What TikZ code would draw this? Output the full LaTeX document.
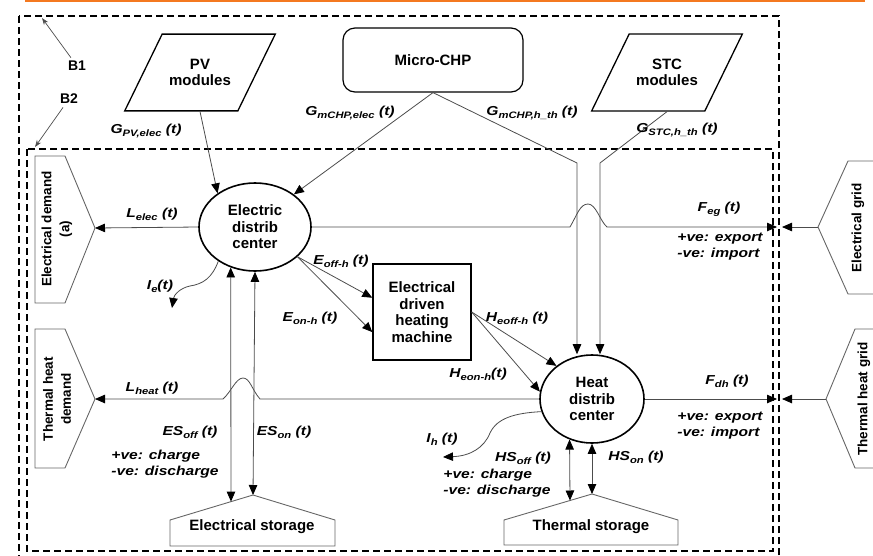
\documentclass[tikz,border=0pt]{standalone}
\usepackage{fontspec}
\setmainfont{Liberation Sans}
\newfontfamily\lblfont{Liberation Sans}[FakeStretch=1.2]
\usepackage{graphicx}
\usepackage{tikz}
\usetikzlibrary{arrows.meta,shapes.geometric}
\definecolor{topbar}{RGB}{244,121,32}
\newcommand{\fsub}[1]{\raisebox{-0.45ex}{\scalebox{0.72}{#1}}}

\begin{document}
\begin{tikzpicture}[x=1pt, y=-1pt,
    >={Triangle[length=10pt,width=8.5pt,color=black]},
    box/.style={draw, line width=1.3pt, font=\bfseries\fontsize{15}{16.5}\selectfont, align=center, inner sep=0pt},
    centre/.style={box, ellipse, line width=1.6pt},
    panel/.style={box, trapezium, trapezium left angle=64, trapezium right angle=116,
        inner xsep=7pt, inner ysep=24.9pt},
    flow/.style={draw=black!70, line width=0.8pt},
    side/.style={draw=black!60, line width=0.9pt},
    sidetxt/.style={font=\bfseries\fontsize{13.5}{18}\selectfont, align=center, rotate=90, inner sep=0pt},
    storetxt/.style={font=\bfseries\fontsize{15}{16.5}\selectfont, inner sep=0pt},
    lbl/.style={font=\lblfont\bfseries\itshape\fontsize{13}{16}\selectfont, align=left, inner sep=0pt},
    border/.style={line width=1.6pt, dash pattern=on 7pt off 4pt}]
    \useasboundingbox (0,0) rectangle (873,555);

    % Draw the top rule and the two boundaries
    \draw[topbar, line width=3pt] (25,0.8) -- (865,0.8);
    \draw[border] (19,16) rectangle (779,560);
    \draw[border] (27,149) rectangle (773,551);
    \node[font=\bfseries\fontsize{14}{14}\selectfont] (b1) at (77,66) {B1};
    \node[font=\bfseries\fontsize{14}{14}\selectfont] (b2) at (69,99) {B2};
    \coordinate (b1tip) at (42,18);
    \coordinate (b2tip) at (35,147);
    \draw[black!70, line width=0.7pt, -{Stealth[length=7pt,width=5pt]}] (b1) -- (b1tip);
    \draw[black!70, line width=0.7pt, -{Stealth[length=7pt,width=5pt]}] (b2) -- (b2tip);

    % Draw the sources
    \node[panel] (pv) at (200,72.5) {PV\\modules};
    \node[box, rounded corners=12pt, minimum width=180pt, minimum height=64pt, line width=1.2pt] (chp) at (433,60) {Micro-CHP};
    \node[panel] (stc) at (667,72.5) {STC\\modules};

    % Draw the distribution centres and the heating machine
    \node[centre, minimum width=112pt, minimum height=88pt] (elec) at (255,227) {Electric\\distrib\\center};
    \node[centre, minimum width=104pt, minimum height=88pt] (heat) at (592,399) {Heat\\distrib\\center};
    \node[box, minimum width=98pt, minimum height=96pt, line width=1.4pt] (hm) at (422,312) {Electrical\\driven\\heating\\machine};

    % Draw demands, grids and storages
    \draw[side] (35,156) -- (65,156) -- (95,228) -- (65,303) -- (35,303) -- cycle;
    \coordinate (edem) at (95,228);
    \node[sidetxt] (edem-txt) at (57,229) {Electrical demand\\(a)};
    \draw[side] (35,329) -- (65,329) -- (95,399) -- (65,468) -- (35,468) -- cycle;
    \coordinate (tdem) at (95,399);
    \node[sidetxt] (tdem-txt) at (57,399) {Thermal heat\\demand};
    \draw[side] (878,161) -- (848,161) -- (818,227) -- (848,294) -- (878,294);
    \coordinate (egrid) at (818,227);
    \node[sidetxt] (egrid-txt) at (858,228) {Electrical grid};
    \draw[side] (878,329) -- (855,329) -- (826,399) -- (855,468) -- (878,468);
    \coordinate (tgrid) at (826,399);
    \node[sidetxt] (tgrid-txt) at (864,399) {Thermal heat grid};
    \draw[side] (253,495) -- (335,520) -- (335,546) -- (170,546) -- (170,520) -- cycle;
    \coordinate (estore) at (253,495);
    \coordinate (esoff) at (231,501.6);
    \node[storetxt] (estore-txt) at (252,527) {Electrical storage};
    \draw[side] (592,494) -- (678,520) -- (678,545) -- (504,545) -- (504,520) -- cycle;
    \coordinate (tstore) at (592,494);
    \coordinate (hsoff) at (570,500.5);
    \node[storetxt] (tstore-txt) at (591,527) {Thermal storage};

    % Supply flows
    \coordinate (k1) at (577,163);
    \coordinate (k2) at (600,163);
    \draw[flow, ->] (pv.south) -- (elec.138); % PV to electric centre
    \draw[flow, ->] (chp.south) -- (elec.40); % CHP to electric centre
    \draw[flow, ->] (chp.south) -- (k1) -- (k1 |- heat.north); % CHP to heat centre
    \draw[flow, ->] (stc.south) -- (k2) -- (k2 |- heat.north); % STC to heat centre

    % Electric centre flows
    \coordinate (hopa) at (570,227);
    \coordinate (hopb) at (607,227);
    \coordinate (eg-in) at (777,227);
    \coordinate (eg-out) at (782,227);
    \coordinate (ie) at (172,308);
    \draw[flow, ->] (elec.west) -- (edem);
    \draw[flow, ->] (elec.east) -- (hopa) .. controls (577,215) and (580,204) .. (588,204)
        .. controls (596,204) and (600,221) .. (hopb) -- (eg-in);
    \draw[flow, ->] (egrid) -- (eg-out);
    \draw[flow, ->] (elec.223) .. controls (212,278) and (203,284) .. (190,286)
        .. controls (180,288) and (174,295) .. (ie);
    \draw[flow, <->] (elec.239) -- (esoff);
    \draw[flow, <->] (elec.south) -- (estore);
    \draw[flow, ->] (elec.-35) -- (hm.164);
    \draw[flow, ->] (elec.-35) -- (hm.202);

    % Heat centre flows
    \coordinate (hopc) at (260,399);
    \coordinate (hopd) at (223,399);
    \coordinate (th-in) at (777,399);
    \coordinate (th-out) at (782,399);
    \coordinate (ih) at (443,457);
    \draw[flow, ->] (hm.east) -- (heat.137);
    \draw[flow, ->] (hm.east) -- (heat.172);
    \draw[flow, ->] (heat.west) -- (hopc) .. controls (252,390) and (250,378) .. (243,378)
        .. controls (236,378) and (231,392) .. (hopd) -- (tdem);
    \draw[flow, ->] (heat.east) -- (th-in);
    \draw[flow, ->] (tgrid) -- (th-out);
    \draw[flow, ->] (heat.194) .. controls (515,413) and (497,418) .. (490,433)
        .. controls (484,448) and (470,456) .. (ih);
    \draw[flow, <->] (heat.241) -- (hsoff);
    \draw[flow, <->] (heat.south) -- (tstore);

    % Flow labels
    \node[lbl] (l-gpv) at (146,131) {G\fsub{PV,elec} (t)};
    \node[lbl] (l-gce) at (350,113) {G\fsub{mCHP,elec} (t)};
    \node[lbl] (l-gch) at (532,113) {G\fsub{mCHP,h\_th} (t)};
    \node[lbl] (l-gst) at (677,130) {G\fsub{STC,h\_th} (t)};
    \node[lbl] (l-lel) at (152,214) {L\fsub{elec} (t)};
    \node[lbl] (l-ie) at (160,286) {I\fsub{e}(t)};
    \node[lbl] (l-feg) at (719,209) {F\fsub{eg} (t)};
    \node[lbl] (l-egs) at (720,247) {+ve: export\\-ve: import};
    \node[lbl] (l-eoff) at (341,261) {E\fsub{off-h} (t)};
    \node[lbl] (l-eon) at (310,318) {E\fsub{on-h} (t)};
    \node[lbl] (l-hoff) at (517,318) {H\fsub{eoff-h} (t)};
    \node[lbl] (l-hon) at (478,374) {H\fsub{eon-h}(t)};
    \node[lbl] (l-lh) at (152,388) {L\fsub{heat} (t)};
    \node[lbl] (l-esoff) at (190,432) {ES\fsub{off} (t)};
    \node[lbl] (l-eson) at (284,432) {ES\fsub{on} (t)};
    \node[lbl] (l-ess) at (165,464) {+ve: charge\\-ve: discharge};
    \node[lbl] (l-ih) at (442,439) {I\fsub{h} (t)};
    \node[lbl] (l-hsoff) at (523,458) {HS\fsub{off} (t)};
    \node[lbl] (l-hss) at (497,483) {+ve: charge\\-ve: discharge};
    \node[lbl] (l-hson) at (636,457) {HS\fsub{on} (t)};
    \node[lbl] (l-fdh) at (727,381) {F\fsub{dh} (t)};
    \node[lbl] (l-ths) at (720,426) {+ve: export\\-ve: import};
\end{tikzpicture}
\end{document}
